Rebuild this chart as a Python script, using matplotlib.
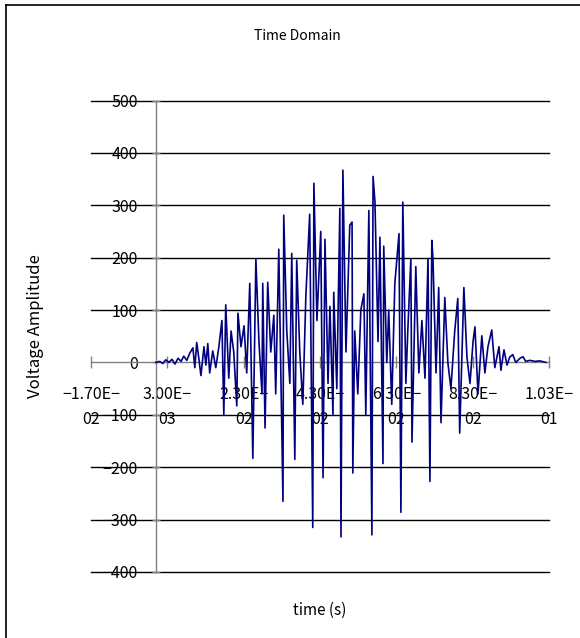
import matplotlib

matplotlib.use("Agg")
import matplotlib.pyplot as plt
from matplotlib.lines import Line2D
import numpy as np

# time samples (ms) and voltage amplitude
TIME_MS = [
    0.0, 1.0, 1.8, 2.6, 3.4, 4.2, 5.0, 5.8, 6.6, 7.3, 8.1, 8.9, 9.7, 10.2,
    10.7, 11.3, 11.8, 12.6, 13.1, 13.6, 14.1, 14.9, 15.7, 16.5, 17.3, 17.8,
    18.3, 19.1, 19.7, 20.4, 21.2, 21.5, 22.3, 23.1, 23.8, 24.6, 25.4, 26.2,
    27.0, 27.8, 28.0, 28.6, 29.3, 30.1, 30.9, 31.4, 32.2, 33.3, 33.5, 34.3,
    35.1, 35.6, 36.4, 36.9, 37.7, 38.5, 39.3, 40.3, 41.1, 41.4, 42.2, 43.2,
    43.8, 44.3, 45.1, 45.6, 46.4, 46.6, 47.4, 48.2, 48.5, 49.0, 49.8, 50.8,
    51.4, 51.6, 52.1, 52.9, 53.7, 54.5, 55.0, 55.8, 56.6, 56.9, 57.4, 58.2,
    58.7, 59.5, 59.7, 60.5, 61.0, 61.8, 62.6, 63.7, 64.2, 64.7, 65.5, 66.0,
    66.8, 67.1, 68.1, 68.9, 69.7, 70.5, 71.3, 71.8, 72.3, 72.6, 73.4, 74.1,
    74.7, 75.7, 76.5, 77.3, 78.3, 79.1, 79.6, 80.7, 81.5, 82.3, 83.1, 83.6,
    84.4, 85.4, 86.2, 87.0, 88.0, 88.8, 89.9, 90.4, 91.2, 92.0, 92.7, 93.5,
    94.3, 95.4, 96.2, 96.9, 98.0, 99.3, 100.6, 102.2,
]
VOLTAGE = [
    0, 2, -2, 5, 0, 6, -3, 8, 2, 12, 4, 18, 28, -10,
    38, 5, -25, 30, -5, 36, -20, 22, -10, 30, 80, -100,
    110, -30, 60, 20, -83, 94, 30, 70, -20, 151, -183, 197,
    40, -60, 151, -125, 153, 20, 90, -60, 216, -265, 281, 60,
    -40, 208, -185, 195, 20, -80, 128, 283, -315, 342, 80, 250,
    -220, 235, -40, 107, -100, 134, -50, 294, -333, 367, 20, 262,
    268, -211, 60, -60, 100, 131, -100, 290, -329, 355, 306, 40,
    239, -193, 222, 0, 100, -80, 150, 246, -286, 306, -40, 60,
    197, -152, 183, -20, 80, -30, 198, -227, 233, 198, -20, 143,
    -115, 124, 0, -50, 60, 122, -135, 143, 10, -40, 40, 68,
    -60, 51, -20, 30, 62, -10, 30, -15, 24, -5, 10, 15,
    0, 8, 11, 2, 4, 2, 3, 0,
]

X_TICKS = [-0.017, 0.003, 0.023, 0.043, 0.063, 0.083, 0.103]
X_TICK_LABELS = ["−1.70E−\n02", "3.00E−\n03", "2.30E−\n02", "4.30E−\n02",
                 "6.30E−\n02", "8.30E−\n02", "1.03E−\n01"]
Y_TICKS = [-400, -300, -200, -100, 0, 100, 200, 300, 400, 500]

plt.rcParams.update({
    "font.family": ["Noto Sans CJK JP", "DejaVu Sans"],
    "font.size": 11,
})

fig = plt.figure(figsize=(5.8, 6.38), dpi=100)
ax = fig.add_axes([91 / 580, 1 - 572 / 638, 458 / 580, 471.5 / 638])

ax.set_xlim(-0.017, 0.103)
ax.set_ylim(-400, 500)

# horizontal major gridlines (black, Excel style)
for yv in Y_TICKS:
    if yv != 0:
        ax.axhline(yv, color="black", lw=1.0, zorder=1, clip_on=False)

t = np.asarray(TIME_MS) * 1e-3
ax.plot(t, VOLTAGE, color="#000080", lw=1.2, zorder=3)

for side in ("top", "right"):
    ax.spines[side].set_visible(False)
ax.spines["left"].set_position(("data", 0))
ax.spines["bottom"].set_position(("data", 0))
for side in ("left", "bottom"):
    ax.spines[side].set_color("#808080")
    ax.spines[side].set_linewidth(1.0)
    ax.spines[side].set_zorder(2)

ax.set_xticks(X_TICKS)
ax.set_xticklabels(X_TICK_LABELS)
ax.set_yticks(Y_TICKS)
ax.set_yticklabels([str(v).replace("-", "−") for v in Y_TICKS])
ax.tick_params(axis="x", direction="inout", length=8, width=1.0,
               color="#808080", pad=13, labelsize=11.5)
ax.tick_params(axis="y", direction="inout", length=6, width=1.0,
               color="#808080", pad=10, labelsize=11.5)
for lbl in ax.get_xticklabels():
    lbl.set_linespacing(1.6)

fig.text(297 / 580, 1 - 36 / 638, "Time Domain", ha="center", va="center",
         fontsize=10)
fig.text(320 / 580, 1 - 610 / 638, "time (s)", ha="center", va="center",
         fontsize=11)
fig.text(35 / 580, 1 - 398 / 638, "Voltage Amplitude", rotation=90,
         ha="center", va="bottom", fontsize=12)

# chart area frame (only top and left edges fall inside the image)
fig.add_artist(Line2D([5.5 / 580, 5.5 / 580], [0, 1 - 5 / 638],
                      transform=fig.transFigure, color="black", lw=1.2))
fig.add_artist(Line2D([5.5 / 580, 1], [1 - 5 / 638, 1 - 5 / 638],
                      transform=fig.transFigure, color="black", lw=1.2))

fig.savefig("out.png", dpi=100)
